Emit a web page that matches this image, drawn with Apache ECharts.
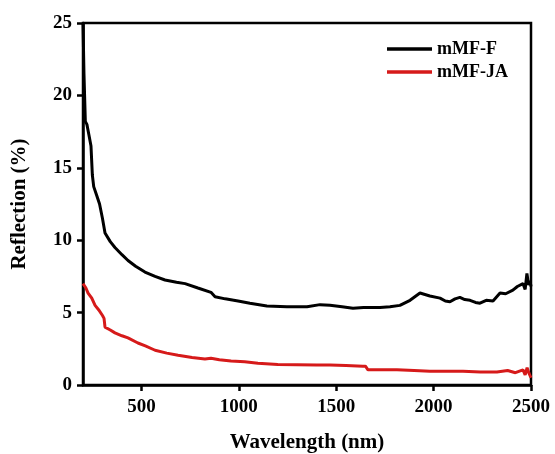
<!DOCTYPE html>
<html>
<head>
<meta charset="utf-8">
<script src="https://cdn.jsdelivr.net/npm/echarts@6/dist/echarts.min.js"></script>
<style>
  html, body { margin: 0; padding: 0; background: #fff; }
  #chart { width: 555px; height: 454px; }
</style>
</head>
<body>
<div id="chart"></div>
<script>
// wavelength (nm) / reflection (%)
const wavelengthF = [200, 205, 212, 220, 230, 241, 248, 255, 270, 285, 300, 313, 340, 364, 400, 431, 470, 518, 570, 621, 680, 724, 790, 857, 865, 878, 930, 996, 1057, 1144, 1247, 1350, 1417, 1468, 1530, 1586, 1640, 1673, 1725, 1776, 1827, 1879, 1930, 1981, 2033, 2060, 2084, 2110, 2135, 2160, 2187, 2215, 2238, 2270, 2305, 2341, 2370, 2407, 2430, 2459, 2470, 2479, 2488, 2495, 2500];
const reflectF = [25, 21.5, 18.2, 18.0, 17.3, 16.5, 14.5, 13.7, 13.1, 12.5, 11.5, 10.5, 9.9, 9.5, 9.0, 8.6, 8.2, 7.8, 7.5, 7.25, 7.1, 7.0, 6.7, 6.4, 6.5, 6.1, 5.95, 5.8, 5.65, 5.45, 5.4, 5.4, 5.55, 5.5, 5.4, 5.3, 5.35, 5.35, 5.35, 5.4, 5.5, 5.85, 6.35, 6.15, 6.0, 5.8, 5.75, 5.95, 6.05, 5.9, 5.85, 5.7, 5.65, 5.85, 5.8, 6.35, 6.3, 6.55, 6.8, 7.0, 6.6, 7.7, 6.9, 7.2, 6.8];

const wavelengthJA = [200, 215, 226, 245, 262, 280, 300, 308, 313, 340, 364, 400, 431, 482, 520, 570, 630, 688, 760, 826, 857, 900, 960, 1030, 1098, 1200, 1298, 1400, 1468, 1550, 1637, 1650, 1663, 1740, 1812, 1900, 1981, 2060, 2151, 2240, 2325, 2380, 2420, 2459, 2470, 2480, 2490, 2500];
const reflectJA = [7.0, 6.7, 6.35, 6.0, 5.5, 5.2, 4.8, 4.6, 4.0, 3.8, 3.6, 3.4, 3.25, 2.9, 2.7, 2.4, 2.2, 2.05, 1.9, 1.8, 1.85, 1.75, 1.65, 1.6, 1.5, 1.42, 1.4, 1.38, 1.38, 1.35, 1.3, 1.3, 1.05, 1.05, 1.05, 1.0, 0.95, 0.95, 0.95, 0.9, 0.9, 1.0, 0.85, 1.05, 0.7, 1.2, 0.8, 0.5];

const xTicks = [500, 1000, 1500, 2000, 2500];
const yTicks = [0, 5, 10, 15, 20, 25];

const seriesNames = ["mMF-F", "mMF-JA"];
const colors = ["#000000", "#d61a1a"];

function pairs(xs, ys) {
  return xs.map((x, i) => [x, ys[i]]);
}

const chart = echarts.init(document.getElementById("chart"));
const font = "Liberation Serif";

const option = {
  animation: false,
  color: colors,
  grid: {
    left: 83,
    right: 24,
    top: 23,
    bottom: 69,
    outerBoundsMode: "none",
    containLabel: false,
    show: true,
    borderColor: "#000",
    borderWidth: 2.5,
  },
  legend: {
    orient: "vertical",
    left: 382,
    top: 35,
    icon: "rect",
    itemWidth: 45,
    itemHeight: 3.5,
    itemGap: 5,
    textStyle: {
      fontFamily: font,
      fontWeight: "bold",
      fontSize: 18,
      color: "#000",
    },
    data: seriesNames,
  },
  xAxis: {
    type: "value",
    min: 200,
    max: 2500,
    name: "Wavelength (nm)",
    nameLocation: "middle",
    nameGap: 47,
    nameTextStyle: {
      fontFamily: font,
      fontWeight: "bold",
      fontSize: 21,
      color: "#000",
    },
    axisLine: { show: true, lineStyle: { color: "#000", width: 2.5 } },
    axisTick: {
      show: true,
      inside: false,
      length: 6,
      customValues: xTicks,
      lineStyle: { color: "#000", width: 2.5 },
    },
    axisLabel: {
      customValues: xTicks,
      formatter: (v) => String(v),
      margin: 13,
      fontFamily: font,
      fontWeight: "bold",
      fontSize: 19,
      color: "#000",
    },
    splitLine: { show: false },
  },
  yAxis: {
    type: "value",
    min: 0,
    max: 25,
    interval: 5,
    name: "Reflection (%)",
    nameLocation: "middle",
    nameGap: 53,
    nameTextStyle: {
      fontFamily: font,
      fontWeight: "bold",
      fontSize: 21,
      color: "#000",
    },
    axisLine: { show: true, lineStyle: { color: "#000", width: 2.5 } },
    axisTick: {
      show: true,
      inside: false,
      length: 6,
      lineStyle: { color: "#000", width: 2.5 },
    },
    axisLabel: {
      customValues: yTicks,
      formatter: (v) => String(v),
      margin: 11,
      fontFamily: font,
      fontWeight: "bold",
      fontSize: 19,
      color: "#000",
    },
    splitLine: { show: false },
  },
  series: [
    {
      name: seriesNames[0],
      type: "line",
      showSymbol: false,
      lineStyle: { width: 3, color: colors[0] },
      data: pairs(wavelengthF, reflectF),
    },
    {
      name: seriesNames[1],
      type: "line",
      showSymbol: false,
      lineStyle: { width: 3, color: colors[1] },
      data: pairs(wavelengthJA, reflectJA),
    },
  ],
};

chart.setOption(option);
</script>
</body>
</html>
